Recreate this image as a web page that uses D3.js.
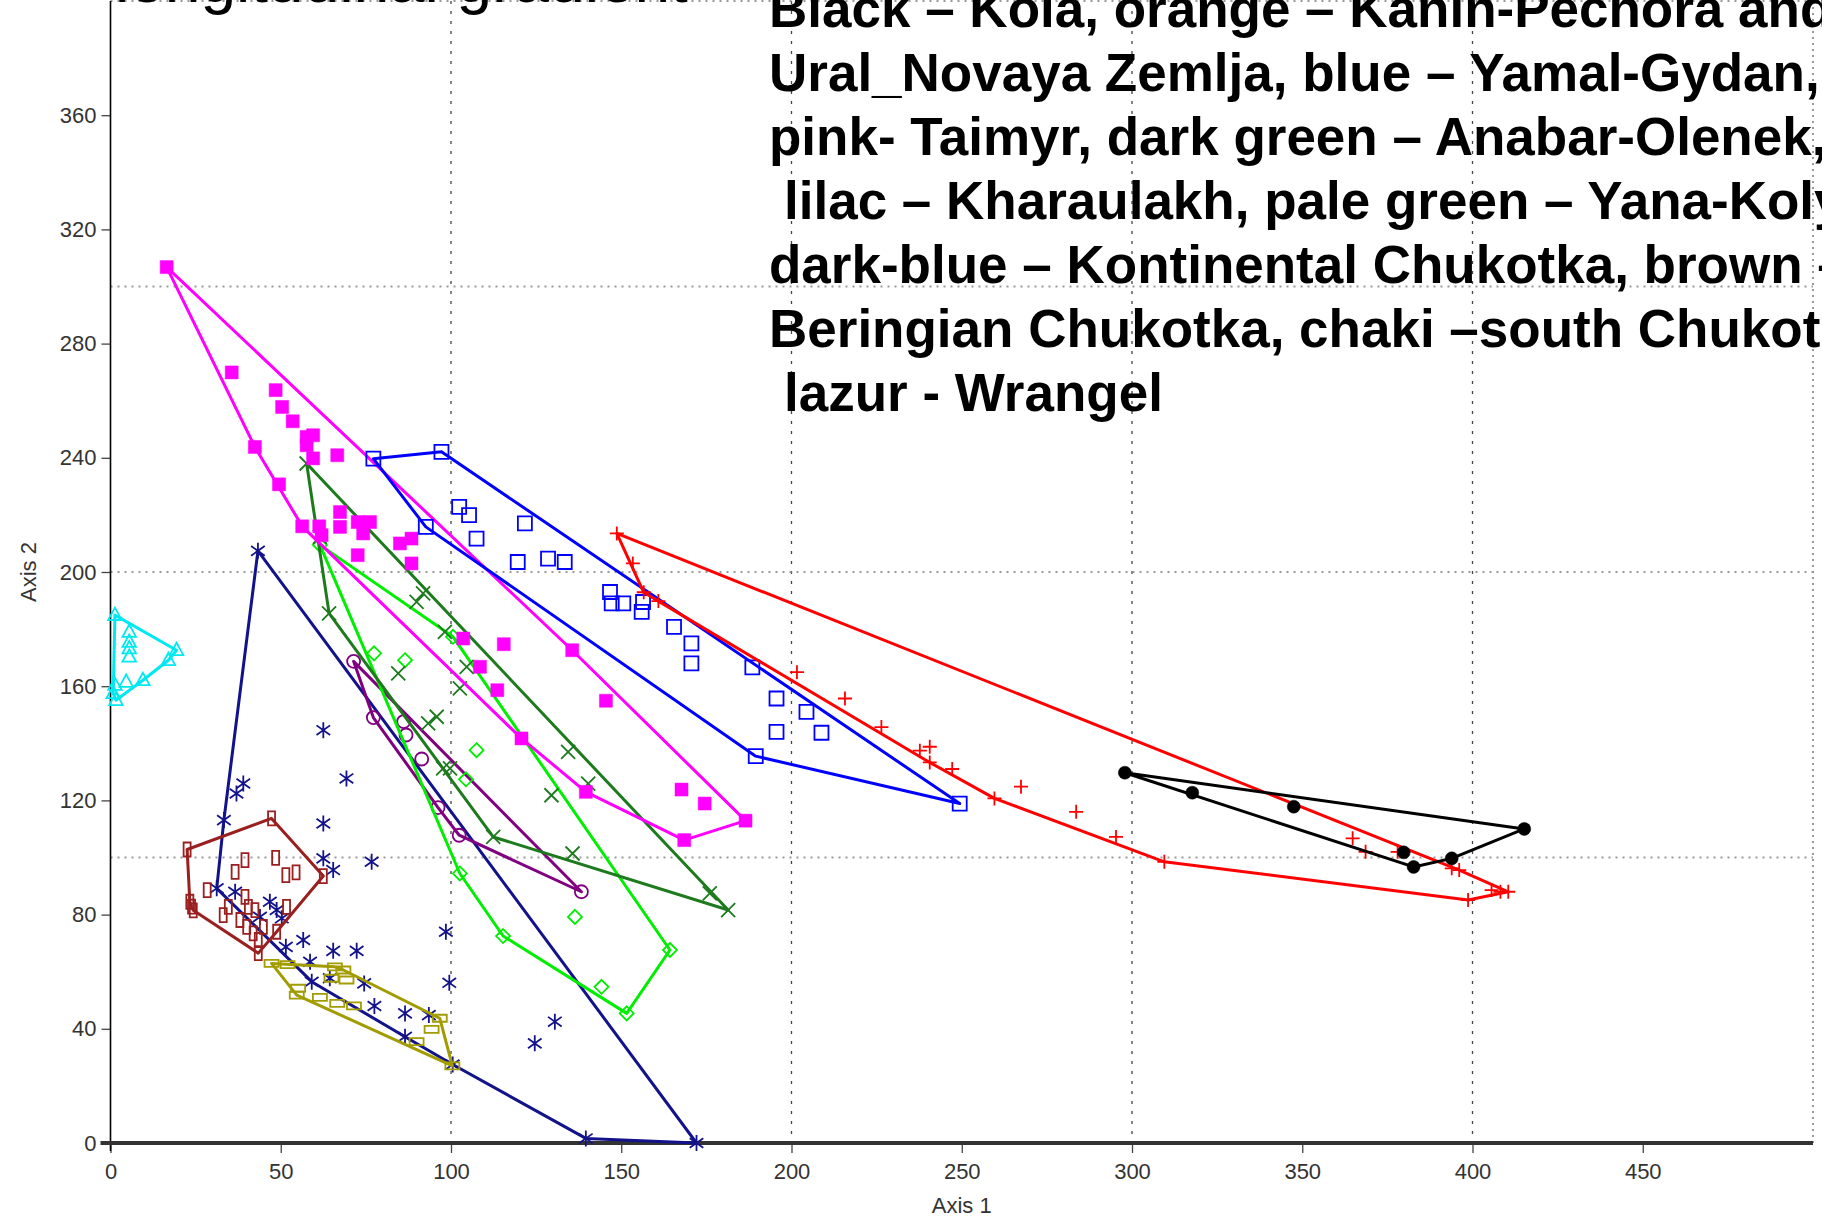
<!DOCTYPE html>
<html>
<head>
<meta charset="utf-8">
<script src="https://cdn.jsdelivr.net/npm/d3@7"></script>
<style>
body { margin: 0; background: #fff; }
text { font-family: "Liberation Sans", Arial, sans-serif; }
</style>
</head>
<body>
<div class="chart"></div>
<script>
var w = 1822;
var h = 1220;

// data: [Axis 1, Axis 2] per region
var kola = [[297.9,129.7],[317.7,122.7],[347.5,117.8],[379.8,101.8],[382.7,96.7],[393.9,99.7],[415.2,110]];

var kaninUral = [[148.7,213.5],[153.4,203],[156.6,192.9],[160.9,189.8],[201.6,164.9],[215.7,155.7],[226.4,145.7],
  [237.7,137.4],[240.6,138.8],[240.6,133.3],[247.2,131],[259.6,120.7],[267.4,124.8],[283.6,116],[295.3,107.2],
  [309.5,98.5],[364.8,106.7],[368.6,102],[378,102],[393.9,96.2],[396.1,95.6],[398.7,85.1],[405.6,88.6],[408.2,88],[410.5,88]];

var yamalGydan = [[77.2,239.7],[97.2,242.1],[92.6,215.8],[102.4,222.8],[105.3,219.9],[107.5,211.7],[121.7,217],
  [119.6,203.5],[128.5,204.7],[133.4,203.5],[146.7,193],[147.2,189],[150.6,189],[156,186],[156.4,189.5],
  [165.5,180.8],[170.6,175],[170.6,168],[188.5,166.6],[195.6,155.7],[195.6,144],[204.4,151],[208.8,143.7],
  [189.5,135.5],[249.4,118.9]];

var taimyr = [[16.5,306.8],[35.6,269.9],[48.5,263.7],[50.4,257.8],[53.5,252.8],[57.6,247.3],[59.5,247.9],
  [57.6,244.4],[59.5,239.8],[66.6,240.9],[42.4,243.8],[49.5,230.7],[56.3,216],[61.3,216],[62,212.9],
  [67.4,221],[67.4,215.8],[72.6,217.5],[76.2,217.5],[74.2,213.5],[85,210],[88.4,211.7],[88.4,203],
  [72.6,205.9],[103.6,176.7],[115.5,174.7],[108.5,166.8],[113.6,158.6],[135.6,172.6],[145.5,154.9],
  [120.7,141.7],[139.6,123],[167.7,123.8],[174.5,118.9],[186.5,112.9],[168.5,106.1]];

var anabarOlenek = [[57.6,238],[61.5,212.3],[64.2,185.5],[84.5,164.5],[89.9,189.5],[91.8,192.5],[98.2,179],
  [104.6,166.8],[102.6,159.2],[95.8,149.3],[93.3,147],[97.7,131.2],[99.7,131.2],[112.4,107.2],[134.4,137],
  [140.3,125.9],[129.5,121.8],[135.7,101.4],[176,87.4],[181.4,81.6]];

var kharaulakh = [[71.4,168.7],[77.2,149],[86.1,147.6],[86.8,142.9],[91.4,134.5],[96.2,117.5],[102.4,107.8],[138.3,88]];

var yanaKolyma = [[61.5,209.5],[100.6,177.3],[77.4,171.5],[86.5,169.1],[107.5,137.6],[104.4,127.4],[102.6,94.4],
  [115.3,72.5],[136.4,79.2],[144.2,54.7],[164.3,67.6],[151.6,45.4]];

var kontChukotka = [[43.3,207.4],[62.5,144.6],[69.3,127.7],[39,125.9],[37,122.4],[33.3,113.1],[62.5,111.9],
  [62.5,99.7],[65.4,95.6],[76.7,98.5],[31.2,89.2],[36.6,88],[46.8,84.5],[48.8,81.6],[50.3,78.7],[43.9,79.2],
  [98.5,74],[51.5,68.7],[56.6,71.1],[65.4,67.3],[72.3,67.3],[58.6,63.5],[64.4,57.7],[59.1,56.5],[74.5,55.9],
  [77.5,48],[86.5,45.4],[93.5,44.8],[86.5,37.2],[99.5,56.1],[130.5,42.5],[124.6,34.9],[139.6,1.6],[172.1,0],
  [100.5,27.5]];

var beringChukotka = [[22.5,102.8],[47.3,113.7],[62.5,93.5],[43.4,66.5],[23.8,82.8],[23.3,84.5],[24.3,81.5],
  [28.4,88.6],[36.6,95],[39.5,99.1],[48.5,99.9],[51.5,93.8],[54.5,94.8],[33.1,79.8],[34.6,82.7],[39.5,86.2],
  [40.5,82.7],[38,78.1],[42.4,81.6],[40,75.7],[41.9,73.4],[51.7,82.7],[44.9,75.7],[48.8,74],[43.4,71.1]];

var southChukotka = [[47.3,62.9],[52,62.5],[65.9,61.7],[68.4,60.6],[69.3,57.1],[64.9,57.7],[55.1,54.2],
  [54.7,51.8],[61.5,51],[66.6,48.9],[71.5,48],[96.7,43.7],[94.3,39.8],[89.9,35.5],[100.4,27]];

var wrangel = [[1.3,184.9],[5.5,179],[5.5,175.5],[5.5,173.2],[5.5,170.3],[19.4,172.6],[17,169.1],[9.5,162.1],
  [4.6,161.5],[1.3,160.4],[0.8,157.5],[1.6,155.1]];

var xTicks = [0, 50, 100, 150, 200, 250, 300, 350, 400, 450];
var yTicks = [0, 40, 80, 120, 160, 200, 240, 280, 320, 360];
var xGrid = [100, 200, 300, 400];
var yGrid = [100, 200, 300];

var noteLines = [
  "Black \u2013 Kola, orange \u2013 Kanin-Pechora and",
  "Ural_Novaya Zemlja, blue \u2013 Yamal-Gydan,",
  "pink- Taimyr, dark green \u2013 Anabar-Olenek,",
  "lilac \u2013 Kharaulakh, pale green \u2013 Yana-Kolyma,",
  "dark-blue \u2013 Kontinental Chukotka, brown \u2013",
  "Beringian Chukotka, chaki \u2013south Chukotka,",
  "lazur - Wrangel"
];
var headText = "longitudinal gradient";

// svg
var svg = d3.select(".chart")
            .append("svg")
            .attr("width", w)
            .attr("height", h)
            .style("background", "#fff");

var xScale = d3.scaleLinear().domain([0, 500]).range([110.5, 1813]);
var yScale = d3.scaleLinear().domain([0, 400]).range([1143, 1]);

// grid
svg.selectAll(".vgrid")
   .data(xGrid)
   .enter().append("line")
   .attr("x1", d => xScale(d)).attr("x2", d => xScale(d))
   .attr("y1", yScale(400)).attr("y2", yScale(0))
   .attr("stroke", "#444").attr("stroke-width", 1.3)
   .attr("stroke-dasharray", "3,7");

svg.selectAll(".hgrid")
   .data(yGrid.concat([400]))
   .enter().append("line")
   .attr("x1", xScale(0)).attr("x2", xScale(500))
   .attr("y1", d => yScale(d)).attr("y2", d => yScale(d))
   .attr("stroke", "#999").attr("stroke-width", 2)
   .attr("stroke-dasharray", "2,5");

svg.append("line")
   .attr("x1", xScale(500)).attr("x2", xScale(500))
   .attr("y1", yScale(400)).attr("y2", yScale(0))
   .attr("stroke", "#999").attr("stroke-width", 2)
   .attr("stroke-dasharray", "2,4");

// axes
var xAxis = svg.append("g")
   .attr("transform", "translate(0," + (yScale(0) + 2) + ")")
   .call(d3.axisBottom(xScale).tickValues(xTicks).tickSize(8).tickPadding(10));
var yAxis = svg.append("g")
   .attr("transform", "translate(" + xScale(0) + ",0)")
   .call(d3.axisLeft(yScale).tickValues(yTicks).tickSize(9).tickPadding(5));

[xAxis, yAxis].forEach(function(g) {
  g.select(".domain").remove();
  g.selectAll("line").attr("stroke", "#444").attr("stroke-width", 1.3);
  g.selectAll("text").attr("fill", "#333").style("font-size", "22px")
   .style("font-family", "'Liberation Sans', Arial, sans-serif");
});

svg.append("line")
   .attr("x1", xScale(0)).attr("x2", xScale(0))
   .attr("y1", yScale(400)).attr("y2", yScale(0) + 8)
   .attr("stroke", "#000").attr("stroke-width", 1.6);
svg.append("line")
   .attr("x1", xScale(0) - 10).attr("x2", xScale(500))
   .attr("y1", yScale(0)).attr("y2", yScale(0))
   .attr("stroke", "#333").attr("stroke-width", 4);

svg.append("text")
   .attr("x", xScale(250)).attr("y", 1213)
   .attr("text-anchor", "middle").attr("fill", "#333")
   .style("font-size", "22px").text("Axis 1");
svg.append("text")
   .attr("transform", "translate(36," + yScale(200) + ") rotate(-90)")
   .attr("text-anchor", "middle").attr("fill", "#333")
   .style("font-size", "22px").text("Axis 2");

// marker shapes
function markPath(type, s) {
  switch (type) {
    case "square": return "M" + (-s) + "," + (-s) + "h" + 2 * s + "v" + 2 * s + "h" + (-2 * s) + "Z";
    case "tall": return "M" + (-s / 2) + "," + (-s) + "h" + s + "v" + 2 * s + "h" + (-s) + "Z";
    case "wide": return "M" + (-s) + "," + (-s / 2) + "h" + 2 * s + "v" + s + "h" + (-2 * s) + "Z";
    case "plus": return "M" + (-s) + ",0H" + s + "M0," + (-s) + "V" + s;
    case "times": return "M" + (-s) + "," + (-s) + "L" + s + "," + s + "M" + (-s) + "," + s + "L" + s + "," + (-s);
    case "asterisk": var dx = s * 0.85, dy = s * 0.6;
      return "M0," + (-s) + "V" + s + "M" + (-dx) + "," + (-dy) + "L" + dx + "," + dy + "M" + (-dx) + "," + dy + "L" + dx + "," + (-dy);
    case "triangle": return "M0," + (-s) + "L" + (s * 0.9) + "," + (s * 0.65) + "L" + (-s * 0.9) + "," + (s * 0.65) + "Z";
    case "diamond": return "M0," + (-s) + "L" + s + ",0L0," + s + "L" + (-s) + ",0Z";
    case "circle": return "M" + (-s) + ",0A" + s + "," + s + " 0 1,0 " + s + ",0A" + s + "," + s + " 0 1,0 " + (-s) + ",0Z";
  }
}

var groups = [
  {pts: kontChukotka,   color: "#12128a", mark: "asterisk", size: 8,   filled: false},
  {pts: beringChukotka, color: "#9a1f1f", mark: "tall",     size: 7,   filled: false},
  {pts: southChukotka,  color: "#a29c00", mark: "wide",     size: 7,   filled: false},
  {pts: wrangel,        color: "#00e8f0", mark: "triangle", size: 7.5, filled: false},
  {pts: kharaulakh,     color: "#800080", mark: "circle",   size: 6.5, filled: false},
  {pts: yanaKolyma,     color: "#00ee00", mark: "diamond",  size: 7,   filled: false},
  {pts: anabarOlenek,   color: "#1d7a1d", mark: "times",    size: 7,   filled: false},
  {pts: taimyr,         color: "#ff00ff", mark: "square",   size: 6.5, filled: true},
  {pts: yamalGydan,     color: "#0000ff", mark: "square",   size: 7,   filled: false},
  {pts: kaninUral,      color: "#ff0000", mark: "plus",     size: 7,   filled: false},
  {pts: kola,           color: "#000000", mark: "circle",   size: 6.5, filled: true}
];

groups.forEach(function(gr) {
  var hull = d3.polygonHull(gr.pts.map(d => [xScale(d[0]), yScale(d[1])]));
  svg.append("path")
     .attr("d", "M" + hull.join("L") + "Z")
     .attr("fill", "none")
     .attr("stroke", gr.color)
     .attr("stroke-width", 3)
     .attr("stroke-linejoin", "round");

  svg.append("g").selectAll("path")
     .data(gr.pts)
     .enter().append("path")
     .attr("transform", d => "translate(" + xScale(d[0]) + "," + yScale(d[1]) + ")")
     .attr("d", markPath(gr.mark, gr.size))
     .attr("fill", gr.filled ? gr.color : "none")
     .attr("stroke", gr.color)
     .attr("stroke-width", gr.filled ? 0.5 : 1.8);
});

// overlay texts
svg.append("text")
   .attr("x", 115).attr("y", 2)
   .attr("fill", "#000")
   .style("font-size", "64px")
   .text(headText);

svg.append("g").selectAll("text")
   .data(noteLines)
   .enter().append("text")
   .attr("x", (d, i) => (i === 3 || i === 6) ? 784 : 769)
   .attr("y", (d, i) => 27 + i * 64)
   .attr("fill", "#000")
   .style("font-size", "53px")
   .style("font-weight", "bold")
   .text(d => d);
</script>
</body>
</html>
